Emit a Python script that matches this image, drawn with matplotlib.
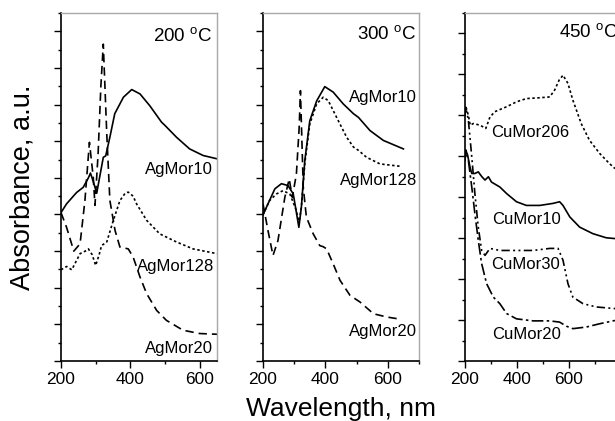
import matplotlib
matplotlib.use("Agg")
import matplotlib.pyplot as plt
from matplotlib.ticker import MultipleLocator

plt.rcParams['font.family'] = ['Liberation Sans', 'DejaVu Sans']
plt.rcParams['mathtext.fontset'] = 'custom'
plt.rcParams['mathtext.rm'] = 'Liberation Sans'

# ---- Panel 1: 200 C ----
p1_ag10_wl = [200, 216, 245, 264, 279, 285, 293, 303, 315, 322, 329, 341, 355, 380, 404, 428, 456, 490, 500, 533, 571, 610, 650]
p1_ag10_v = [4.05, 4.29, 4.6, 4.74, 5.0, 5.13, 4.9, 4.58, 5.2, 5.56, 5.6, 6.11, 6.75, 7.2, 7.41, 7.29, 6.97, 6.52, 6.43, 6.11, 5.79, 5.61, 5.52]
p1_ag128_wl = [200, 216, 231, 255, 270, 279, 290, 300, 310, 317, 332, 351, 370, 385, 394, 408, 418, 447, 485, 533, 581, 650]
p1_ag128_v = [2.49, 2.58, 2.49, 2.93, 3.0, 3.06, 2.9, 2.61, 2.9, 3.15, 3.25, 3.84, 4.38, 4.58, 4.61, 4.5, 4.29, 3.84, 3.47, 3.25, 3.06, 2.93]
p1_ag20_wl = [200, 216, 237, 255, 269, 282, 293, 298, 307, 315, 322, 332, 341, 356, 370, 385, 394, 408, 428, 447, 476, 504, 552, 600, 650]
p1_ag20_v = [4.05, 3.65, 3.0, 3.2, 4.38, 5.97, 5.02, 4.25, 5.65, 7.5, 8.65, 6.2, 4.38, 3.56, 3.11, 3.08, 3.06, 2.84, 2.29, 1.84, 1.38, 1.11, 0.84, 0.75, 0.73]

# ---- Panel 2: 300 C ----
p2_ag10_wl = [200, 216, 238, 259, 280, 297, 315, 323, 334, 350, 372, 398, 425, 457, 490, 506, 543, 586, 650]
p2_ag10_v = [3.99, 4.29, 4.7, 4.84, 4.79, 4.56, 3.65, 4.2, 5.47, 6.56, 7.1, 7.49, 7.34, 7.02, 6.75, 6.65, 6.29, 6.02, 5.79]
p2_ag128_wl = [200, 221, 243, 264, 286, 307, 315, 323, 334, 350, 372, 393, 409, 436, 468, 490, 506, 532, 575, 645]
p2_ag128_v = [3.99, 4.38, 4.56, 4.65, 4.56, 4.11, 3.75, 4.2, 5.4, 6.47, 7.02, 7.2, 7.11, 6.65, 6.11, 5.84, 5.75, 5.56, 5.38, 5.31]
p2_ag20_wl = [200, 216, 232, 248, 270, 284, 294, 307, 316, 320, 329, 339, 361, 382, 393, 404, 425, 447, 479, 511, 554, 597, 634]
p2_ag20_v = [4.29, 3.56, 2.88, 3.29, 4.47, 4.97, 4.47, 5.1, 6.38, 7.38, 4.75, 3.93, 3.47, 3.15, 3.12, 3.06, 2.65, 2.2, 1.79, 1.61, 1.29, 1.2, 1.15]

# ---- Panel 3: 450 C ----
p3_cu206_wl = [200, 203, 213, 220, 232, 258, 280, 296, 315, 360, 398, 436, 488, 526, 545, 562, 577, 596, 615, 647, 679, 718, 756, 777]
p3_cu206_v = [6.0, 6.22, 6.0, 5.76, 5.8, 5.76, 5.68, 5.96, 6.09, 6.21, 6.33, 6.41, 6.43, 6.45, 6.62, 6.86, 6.98, 6.78, 6.37, 5.8, 5.39, 5.07, 4.82, 4.7]
p3_cu10_wl = [200, 203, 210, 219, 226, 238, 251, 265, 277, 290, 302, 334, 360, 398, 436, 488, 539, 564, 577, 603, 641, 692, 743, 777]
p3_cu10_v = [4.9, 5.15, 5.03, 4.74, 4.58, 4.58, 4.62, 4.5, 4.42, 4.5, 4.37, 4.25, 4.09, 3.89, 3.8, 3.8, 3.85, 3.89, 3.8, 3.52, 3.27, 3.11, 3.01, 2.99]
p3_cu30_wl = [200, 203, 213, 226, 238, 251, 264, 277, 296, 334, 398, 462, 526, 558, 577, 596, 615, 654, 705, 777]
p3_cu30_v = [6.0, 6.2, 5.88, 4.99, 4.09, 3.27, 2.7, 2.58, 2.75, 2.7, 2.7, 2.7, 2.75, 2.75, 2.46, 1.89, 1.56, 1.4, 1.32, 1.28]
p3_cu20_wl = [200, 203, 213, 226, 238, 251, 264, 283, 309, 334, 360, 398, 462, 526, 564, 590, 615, 667, 718, 777]
p3_cu20_v = [4.9, 5.15, 4.9, 4.25, 3.6, 2.95, 2.38, 1.89, 1.56, 1.4, 1.16, 1.03, 0.98, 0.98, 0.95, 0.85, 0.79, 0.83, 0.91, 0.99]

xticks = [200, 400, 600]

W, H = 615, 421
fig = plt.figure(figsize=(W / 100, H / 100), dpi=100)


def make_ax(left_px, right_px, xmax, ymax, show_right=True):
    top, bottom = 13, 361
    ax = fig.add_axes([left_px / W, (H - bottom) / H, (right_px - left_px) / W, (bottom - top) / H])
    ax.set_xlim(200, xmax)
    ax.set_ylim(0, ymax)
    ax.set_xticks(xticks)
    ax.xaxis.set_minor_locator(MultipleLocator(100))
    ax.yaxis.set_major_locator(MultipleLocator(1))
    ax.yaxis.set_minor_locator(MultipleLocator(0.5))
    ax.set_yticklabels([])
    ax.tick_params(which='major', direction='out', length=5, width=1, labelsize=12.5)
    ax.tick_params(which='minor', direction='out', length=2.5, width=1)
    ax.tick_params(axis='x', pad=3)
    for s in ['top', 'right']:
        ax.spines[s].set_color('#a8a8a8')
        ax.spines[s].set_linewidth(1)
    ax.spines['right'].set_visible(show_right)
    for s in ['left', 'bottom']:
        ax.spines[s].set_linewidth(1.2)
    return ax


dot = (0, (1.5, 1.5))
dash = (0, (5, 3))
lw = 1.2

ax1 = make_ax(61, 217, 650, 9.5)
ax1.plot(p1_ag10_wl, p1_ag10_v, color='black', lw=lw)
ax1.plot(p1_ag128_wl, p1_ag128_v, color='black', lw=lw, ls=dot)
ax1.plot(p1_ag20_wl, p1_ag20_v, color='black', lw=lw, ls=dash)
ax1.text(637, 8.85, '200 $^{\\mathrm{o}}$C', ha='right', va='center', fontsize=13.5)
ax1.text(637, 5.23, 'AgMor10', ha='right', va='center', fontsize=12)
ax1.text(643, 2.59, 'AgMor128', ha='right', va='center', fontsize=12)
ax1.text(637, 0.33, 'AgMor20', ha='right', va='center', fontsize=12)
ax1.set_ylabel('Absorbance, a.u.', fontsize=19.5)
ax1.yaxis.set_label_coords((36 - 61) / 156, 0.5)

ax2 = make_ax(263, 419, 700, 9.5)
ax2.plot(p2_ag10_wl, p2_ag10_v, color='black', lw=lw)
ax2.plot(p2_ag128_wl, p2_ag128_v, color='black', lw=lw, ls=dot)
ax2.plot(p2_ag20_wl, p2_ag20_v, color='black', lw=lw, ls=dash)
ax2.text(692, 8.9, '300 $^{\\mathrm{o}}$C', ha='right', va='center', fontsize=13.5)
ax2.text(692, 7.2, 'AgMor10', ha='right', va='center', fontsize=12)
ax2.text(695, 4.93, 'AgMor128', ha='right', va='center', fontsize=12)
ax2.text(692, 0.8, 'AgMor20', ha='right', va='center', fontsize=12)
ax2.set_xlabel('Wavelength, nm', fontsize=19, labelpad=7)

ax3 = make_ax(465, 615, 777, 8.5, show_right=False)
ax3.plot(p3_cu206_wl, p3_cu206_v, color='black', lw=lw, ls=dot)
ax3.plot(p3_cu10_wl, p3_cu10_v, color='black', lw=lw)
ax3.plot(p3_cu30_wl, p3_cu30_v, color='black', lw=lw, ls=(0, (5, 2, 1.2, 2, 1.2, 2)))
ax3.plot(p3_cu20_wl, p3_cu20_v, color='black', lw=lw, ls=(0, (7, 2, 1.5, 2)))
ax3.text(560, 8.02, '450 $^{\\mathrm{o}}$C', ha='left', va='center', fontsize=13.5)
ax3.text(302, 5.57, 'CuMor206', ha='left', va='center', fontsize=12)
ax3.text(306, 3.45, 'CuMor10', ha='left', va='center', fontsize=12)
ax3.text(302, 2.35, 'CuMor30', ha='left', va='center', fontsize=12)
ax3.text(306, 0.64, 'CuMor20', ha='left', va='center', fontsize=12)

fig.savefig('out.png', dpi=100)
